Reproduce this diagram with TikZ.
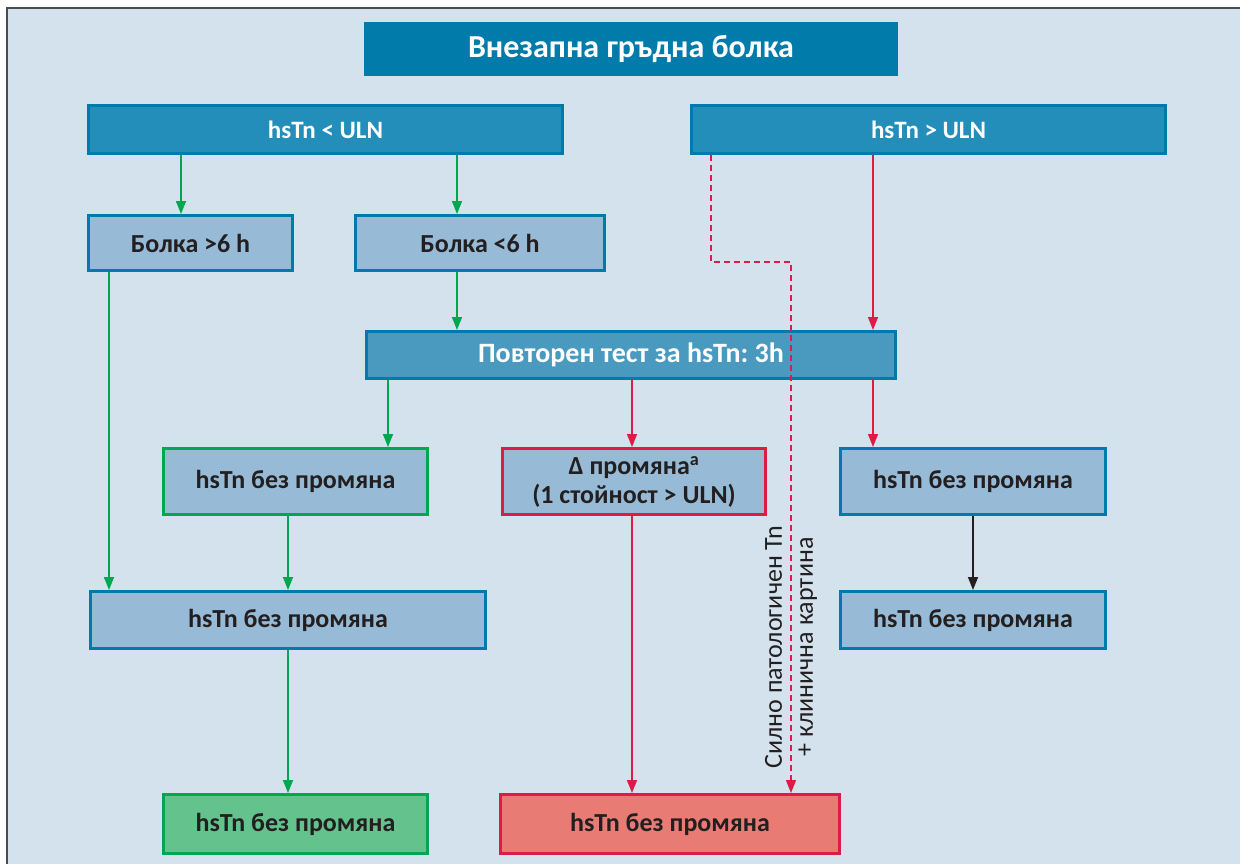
\documentclass[tikz,border=0pt]{standalone}
\usepackage{fontspec}
\setmainfont{Carlito}
\usetikzlibrary{arrows.meta}
\frenchspacing
\definecolor{bgc}{HTML}{D4E2ED}
\definecolor{titlec}{HTML}{007BAA}
\definecolor{topc}{HTML}{238EBA}
\definecolor{edgec}{HTML}{0079AB}
\definecolor{lightc}{HTML}{97BBD6}
\definecolor{repc}{HTML}{4A9AC0}
\definecolor{greenc}{HTML}{00A650}
\definecolor{greenf}{HTML}{64C28C}
\definecolor{redc}{HTML}{DE1A46}
\definecolor{redf}{HTML}{E87C75}
\definecolor{txtc}{HTML}{231F20}
\tikzset{
  box/.style={draw=edgec, line width=3pt, inner sep=0pt, align=center,
    font=\fontsize{26}{30}\selectfont\bfseries, text=txtc},
  titlebox/.style={fill=titlec, inner sep=0pt, text=white,
    font=\fontsize{32}{36}\selectfont\bfseries},
  topbox/.style={box, fill=topc, text=white, font=\fontsize{25}{28}\selectfont\bfseries},
  lightbox/.style={box, fill=lightc},
  repbox/.style={box, fill=repc, text=white, font=\fontsize{28}{30}\selectfont\bfseries},
  greenbox/.style={box, draw=greenc},
  redbox/.style={box, draw=redc},
  tip/.style={-{Triangle[length=13pt,width=10pt]}},
  garrow/.style={tip, draw=greenc, line width=1.5pt},
  rarrow/.style={tip, draw=redc, line width=1.5pt},
  karrow/.style={tip, draw=txtc, line width=1.5pt},
  darrow/.style={tip, draw=redc, line width=1.2pt, dash pattern=on 6pt off 4pt},
}
\begin{document}
\begin{tikzpicture}[x=1pt,y=-1pt]
\useasboundingbox (0,0) rectangle (1240,864);
\clip (0,0) rectangle (1240,864);
\fill[white] (0,0) rectangle (1240,864);
\draw[fill=bgc, draw=black!70, line width=2pt] (7,8) rectangle (1260,880);

\node[titlebox, minimum width=534pt, minimum height=54pt] (title) at (631,49) {Внезапна гръдна болка};
\node[topbox, minimum width=474pt, minimum height=48pt] (ltop) at (325.5,129.5) {hsTn < ULN};
\node[topbox, minimum width=474pt, minimum height=48pt] (rtop) at (928.5,129.5) {hsTn > ULN};
\node[lightbox, minimum width=204pt, minimum height=55pt] (b6a) at (190.5,243) {Болка >6 h};
\node[lightbox, minimum width=249pt, minimum height=55pt] (b6b) at (480,243) {Болка <6 h};
\node[repbox, minimum width=529pt, minimum height=47pt] (rep) at (631,355) {Повторен тест за hsTn: 3h};
\node[greenbox, fill=lightc, minimum width=264pt, minimum height=66pt] (g1) at (295.5,481.5) {hsTn без промяна};
\node[redbox, fill=lightc, minimum width=263pt, minimum height=66pt] (d) at (634,481.5) {Δ промяна\textsuperscript{a}\\[-1pt](1 стойност > ULN)};
\node[lightbox, minimum width=265pt, minimum height=66pt] (r1) at (973,481.5) {hsTn без промяна};
\node[lightbox, minimum width=395pt, minimum height=57pt] (m) at (288,620) {hsTn без промяна};
\node[lightbox, minimum width=265pt, minimum height=57pt] (r2) at (973,620) {hsTn без промяна};
\node[greenbox, fill=greenf, minimum width=264pt, minimum height=59pt] (gb) at (295.5,824) {hsTn без промяна};
\node[redbox, fill=redf, minimum width=339pt, minimum height=59pt] (rb) at (670,824) {hsTn без промяна};

\coordinate (xa) at (181,0);
\coordinate (xb) at (457,0);
\coordinate (xc) at (109,0);
\coordinate (xd) at (388,0);
\coordinate (xe) at (288,0);
\coordinate (xf) at (632,0);
\coordinate (xg) at (873,0);
\coordinate (xh) at (973,0);
\coordinate (xi) at (711,0);
\coordinate (xj) at (791,0);
\coordinate (ybend) at (0,262);

\draw[garrow] (ltop.south -| xa) -- (b6a.north -| xa);
\draw[garrow] (ltop.south -| xb) -- (b6b.north -| xb);
\draw[garrow] (b6b.south -| xb) -- (rep.north -| xb);
\draw[garrow] (b6a.south -| xc) -- (m.north -| xc);
\draw[garrow] (rep.south -| xd) -- (g1.north -| xd);
\draw[garrow] (g1.south -| xe) -- (m.north -| xe);
\draw[garrow] (m.south -| xe) -- (gb.north -| xe);
\draw[rarrow] (rep.south -| xf) -- (d.north -| xf);
\draw[rarrow] (d.south -| xf) -- (rb.north -| xf);
\draw[rarrow] (rtop.south -| xg) -- (rep.north -| xg);
\draw[rarrow] (rep.south -| xg) -- (r1.north -| xg);
\draw[karrow] (r1.south -| xh) -- (r2.north -| xh);
\draw[darrow] (rtop.south -| xi) -- (xi |- ybend) -- (xj |- ybend) -- (rb.north -| xj);

\node[rotate=90, align=center, text=txtc, font=\fontsize{26}{31}\selectfont] (lab) at (791,647) {Силно патологичен Tn\\+ клинична картина};
\end{tikzpicture}
\end{document}
